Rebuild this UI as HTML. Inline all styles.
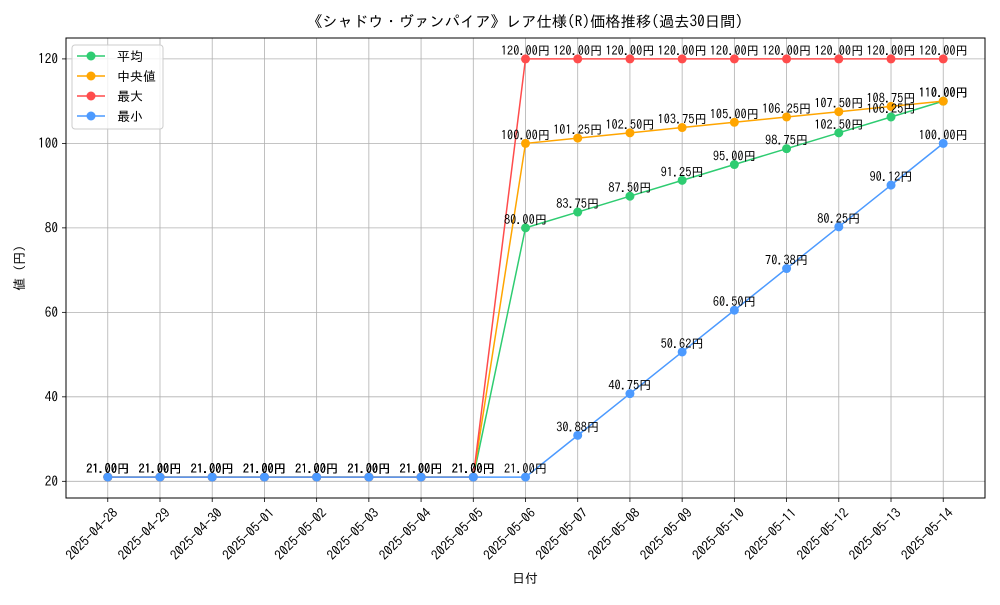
<!DOCTYPE html>
<html><head><meta charset="utf-8"><style>
body{margin:0;background:#fff}
text{font-family:"IPAGothic","Noto Sans CJK JP",sans-serif;fill:#000}
</style></head><body>
<svg id="c" width="1000" height="600" xmlns="http://www.w3.org/2000/svg">
<rect width="1000" height="600" fill="#fff"/>
<g id="grid"></g><g id="axes"></g><g id="series"></g><g id="labels"></g>
<text x="525" y="27" font-size="15.3" text-anchor="middle">《シャドウ・ヴァンパイア》レア仕様(R)価格推移(過去30日間)</text>
<text x="525" y="583" font-size="13" text-anchor="middle">日付</text>
<text transform="translate(24,268) rotate(-90)" font-size="13" text-anchor="middle">値 (円)</text>
<g>
<rect x="72" y="45" width="91" height="84" fill="#fff" fill-opacity="0.8" stroke="#ccc" rx="3"/>
<g id="leg"></g>
</g>
</svg>
<script>
const dates=["2025-04-28","2025-04-29","2025-04-30","2025-05-01","2025-05-02","2025-05-03","2025-05-04","2025-05-05","2025-05-06","2025-05-07","2025-05-08","2025-05-09","2025-05-10","2025-05-11","2025-05-12","2025-05-13","2025-05-14"];
const meanVals=[21,21,21,21,21,21,21,21,80,83.75,87.5,91.25,95,98.75,102.5,106.25,110];
const medianVals=[21,21,21,21,21,21,21,21,100,101.25,102.5,103.75,105,106.25,107.5,108.75,110];
const maxVals=[21,21,21,21,21,21,21,21,120,120,120,120,120,120,120,120,120];
const minVals=[21,21,21,21,21,21,21,21,21,30.88,40.75,50.62,60.5,70.38,80.25,90.12,100];
const yTicks=[20,40,60,80,100,120];
const seriesNames=["平均","中央値","最大","最小"];
const NS="http://www.w3.org/2000/svg";
const L=66,R=985,T=38,B=498;
const allV=[].concat(meanVals,medianVals,maxVals,minVals);
const vmin=Math.min(...allV),vmax=Math.max(...allV),pad=(vmax-vmin)*0.05;
const y0=vmin-pad,y1=vmax+pad;
const n=dates.length,xpad=(n-1)*0.05;
function X(i){return L+(i+xpad)/(n-1+2*xpad)*(R-L);}
function Y(v){return B-(v-y0)/(y1-y0)*(B-T);}
function mk(tag,attrs,parent){const e=document.createElementNS(NS,tag);for(const k in attrs)e.setAttribute(k,attrs[k]);document.getElementById(parent).appendChild(e);return e;}
dates.forEach((d,i)=>{
  const g=mk("line",{x1:X(i),x2:X(i),y1:T,y2:B,stroke:"#b0b0b0","stroke-width":0.8},"grid");
  
  
  mk("line",{x1:X(i),x2:X(i),y1:B,y2:B+4,stroke:"#000","stroke-width":0.8},"axes");
  const t=mk("text",{transform:`translate(${X(i)+4},${B+9}) rotate(-45)`,"font-size":13.3,"text-anchor":"end","dominant-baseline":"hanging"},"axes");
  t.textContent=d;
  
  
});
yTicks.forEach(v=>{
  const g=mk("line",{x1:L,x2:R,y1:Y(v),y2:Y(v),stroke:"#b0b0b0","stroke-width":0.8},"grid");
  
  
  mk("line",{x1:L-4,x2:L,y1:Y(v),y2:Y(v),stroke:"#000","stroke-width":0.8},"axes");
  const t=mk("text",{x:L-8,y:Y(v)+4.5,"font-size":13.3,"text-anchor":"end"},"axes");
  t.textContent=v;
  
  
});
const frame=mk("rect",{x:L,y:T,width:R-L,height:B-T,fill:"none",stroke:"#000","stroke-width":1},"axes");


const all=[meanVals,medianVals,maxVals,minVals];
const colors=["#2ecc71","#ffa500","#ff4c4c","#4c9aff"];
const keys=["mean","median","max","min"];
all.forEach((vals,s)=>{
  const p=mk("polyline",{points:vals.map((v,i)=>X(i)+","+Y(v)).join(" "),fill:"none",stroke:colors[s],"stroke-width":1.5},"series");
  
  
  vals.forEach((v,i)=>{
    const c=mk("circle",{cx:X(i),cy:Y(v),r:4.5,fill:colors[s]},"series");
    
    
    const t=mk("text",{x:X(i),y:Y(v)-4,"font-size":12.3,"text-anchor":"middle"},"labels");
    t.textContent=v.toFixed(2)+"円";
    
    
  });
  const ly=56+s*20;
  mk("line",{x1:77,x2:105,y1:ly,y2:ly,stroke:colors[s],"stroke-width":1.5},"leg");
  mk("circle",{cx:91,cy:ly,r:4.5,fill:colors[s]},"leg");
  const t=mk("text",{x:117,y:ly+5,"font-size":13},"leg");
  t.textContent=seriesNames[s];
  
  
});
</script>
</body></html>
